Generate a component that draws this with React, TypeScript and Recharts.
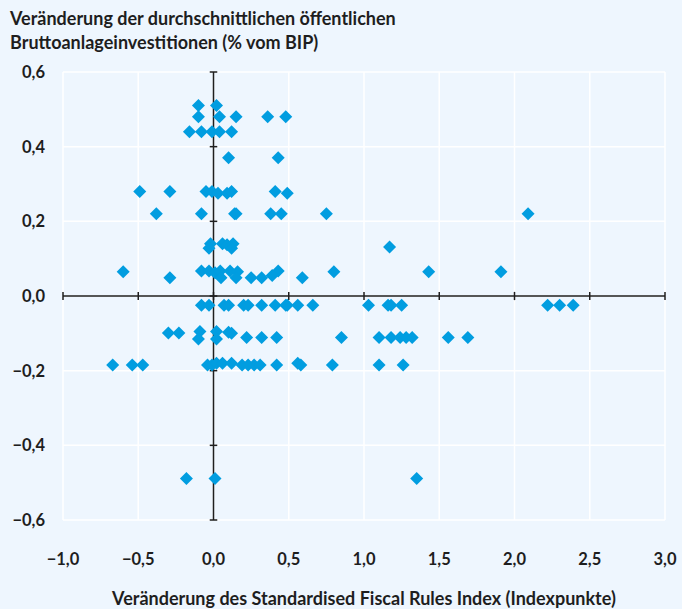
import React from "react";
import {
  ScatterChart,
  Scatter,
  XAxis,
  YAxis,
  CartesianGrid,
  ReferenceLine,
} from "recharts";

// [change in fiscal rules index, change in public gross fixed investment]
const upperPoints: [number, number][] = [
  [-0.1, 0.51], [0.02, 0.51],
  [-0.1, 0.48], [0.04, 0.48], [0.15, 0.48], [0.36, 0.48], [0.48, 0.48],
  [-0.16, 0.44], [-0.08, 0.44], [-0.01, 0.44], [0.04, 0.44], [0.12, 0.44],
  [0.1, 0.37], [0.43, 0.37],
  [-0.49, 0.28], [-0.29, 0.28], [-0.05, 0.28], [-0.01, 0.28], [0.03, 0.275],
  [0.09, 0.275], [0.12, 0.28], [0.41, 0.28], [0.49, 0.275],
  [-0.38, 0.22], [-0.08, 0.22], [0.14, 0.22], [0.15, 0.22], [0.38, 0.22],
  [0.45, 0.22], [0.75, 0.22], [2.09, 0.22],
];

const nearZeroPoints: [number, number][] = [
  [-0.02, 0.14], [-0.03, 0.128], [0.06, 0.14], [0.09, 0.137], [0.13, 0.14],
  [0.12, 0.128], [1.17, 0.131],
  [-0.6, 0.065], [-0.08, 0.067], [-0.03, 0.067], [0.01, 0.062], [0.045, 0.067],
  [0.11, 0.067], [0.16, 0.065], [0.43, 0.067], [0.8, 0.065], [1.43, 0.065],
  [1.91, 0.065],
  [-0.29, 0.049], [0.05, 0.049], [0.15, 0.049], [0.25, 0.049], [0.32, 0.049],
  [0.39, 0.055], [0.59, 0.049],
  [-0.08, -0.025], [-0.03, -0.025], [0.07, -0.025], [0.1, -0.025], [0.2, -0.025],
  [0.23, -0.025], [0.32, -0.025], [0.41, -0.025], [0.48, -0.025], [0.49, -0.025],
  [0.56, -0.025], [0.66, -0.025], [1.03, -0.025], [1.16, -0.025], [1.18, -0.025],
  [1.25, -0.025], [2.22, -0.025], [2.3, -0.025], [2.39, -0.025],
];

const lowerPoints: [number, number][] = [
  [-0.3, -0.099], [-0.23, -0.099], [-0.09, -0.095], [-0.1, -0.115], [0.02, -0.095],
  [0.02, -0.115], [0.1, -0.097], [0.12, -0.1],
  [0.22, -0.111], [0.32, -0.111], [0.42, -0.111], [0.85, -0.111], [1.1, -0.111],
  [1.18, -0.111], [1.24, -0.111], [1.28, -0.111], [1.32, -0.111], [1.56, -0.111],
  [1.69, -0.111],
  [-0.67, -0.185], [-0.54, -0.185], [-0.47, -0.185], [-0.04, -0.185],
  [-0.01, -0.185], [0.02, -0.18], [0.06, -0.18], [0.12, -0.18], [0.19, -0.185],
  [0.23, -0.185], [0.27, -0.185], [0.31, -0.185], [0.42, -0.185], [0.56, -0.18],
  [0.58, -0.185], [0.79, -0.185], [1.1, -0.185], [1.26, -0.185],
  [-0.18, -0.489], [0.01, -0.489], [1.35, -0.489],
];

const xTicks = [-1, -0.5, 0, 0.5, 1, 1.5, 2, 2.5, 3];
const yTicks = [-0.6, -0.4, -0.2, 0, 0.2, 0.4, 0.6];

const titleLines = [
  "Veränderung der durchschnittlichen öffentlichen",
  "Bruttoanlageinvestitionen (% vom BIP)",
];
const xTitle = "Veränderung des Standardised Fiscal Rules Index (Indexpunkte)";

const BG = "#eef6fe";
const BLUE = "#019de0";
const INK = "#1e1e1e";
const FONT = "Lato, 'Noto Sans', sans-serif";

const fmt = (v: number) => v.toFixed(1).replace(".", ",").replace("-", "\u2212");

const data = [...upperPoints, ...nearZeroPoints, ...lowerPoints].map(([x, y]) => ({ x, y }));

const Diamond = (props: any) => {
  const { cx, cy } = props;
  const r = 6.5;
  return (
    <polygon
      points={`${cx},${cy - r} ${cx + r},${cy} ${cx},${cy + r} ${cx - r},${cy}`}
      fill={BLUE}
    />
  );
};

const tickStyle = { fill: INK, fontSize: 16.5, fontWeight: 700, fontFamily: FONT };

export default function App() {
  return (
    <div
      style={{
        position: "absolute",
        left: 0,
        top: 0,
        width: 682,
        height: 609,
        background: BG,
        fontFamily: FONT,
        overflow: "hidden",
      }}
    >
      <div
        style={{
          position: "absolute",
          left: 10,
          top: 6,
          fontSize: 18,
          fontWeight: 700,
          lineHeight: "24px",
          color: INK,
        }}
      >
        {titleLines.map((l) => (
          <div key={l}>{l}</div>
        ))}
      </div>
      <ScatterChart
        width={682}
        height={609}
        margin={{ top: 72, right: 17, bottom: 59, left: 0 }}
      >
        <CartesianGrid stroke="#ffffff" strokeWidth={1.5} horizontalValues={yTicks} verticalValues={xTicks} />
        <XAxis
          type="number"
          dataKey="x"
          domain={[-1, 3]}
          ticks={xTicks}
          interval={0}
          axisLine={false}
          tickLine={false}
          tickMargin={27}
          tick={tickStyle}
          tickFormatter={fmt}
          height={30}
        />
        <YAxis
          type="number"
          dataKey="y"
          domain={[-0.6, 0.6]}
          ticks={yTicks}
          interval={0}
          axisLine={false}
          tickLine={false}
          tickMargin={12}
          tick={tickStyle}
          tickFormatter={fmt}
          width={63}
        />
        <ReferenceLine y={0} stroke={INK} strokeWidth={1.5} />
        <ReferenceLine x={0} stroke={INK} strokeWidth={1.5} />
        {xTicks.map((t) => (
          <ReferenceLine
            key={`xt${t}`}
            segment={[{ x: t, y: -0.011 }, { x: t, y: 0.011 }]}
            stroke={INK}
            strokeWidth={1.5}
          />
        ))}
        {yTicks.map((t) => (
          <ReferenceLine
            key={`yt${t}`}
            segment={[{ x: -0.025, y: t }, { x: 0.025, y: t }]}
            stroke={INK}
            strokeWidth={1.5}
          />
        ))}
        <Scatter data={data} shape={<Diamond />} isAnimationActive={false} />
      </ScatterChart>
      <div
        style={{
          position: "absolute",
          left: 0,
          width: 728,
          top: 586,
          textAlign: "center",
          fontSize: 18,
          fontWeight: 700,
          lineHeight: "24px",
          color: INK,
        }}
      >
        {xTitle}
      </div>
    </div>
  );
}
